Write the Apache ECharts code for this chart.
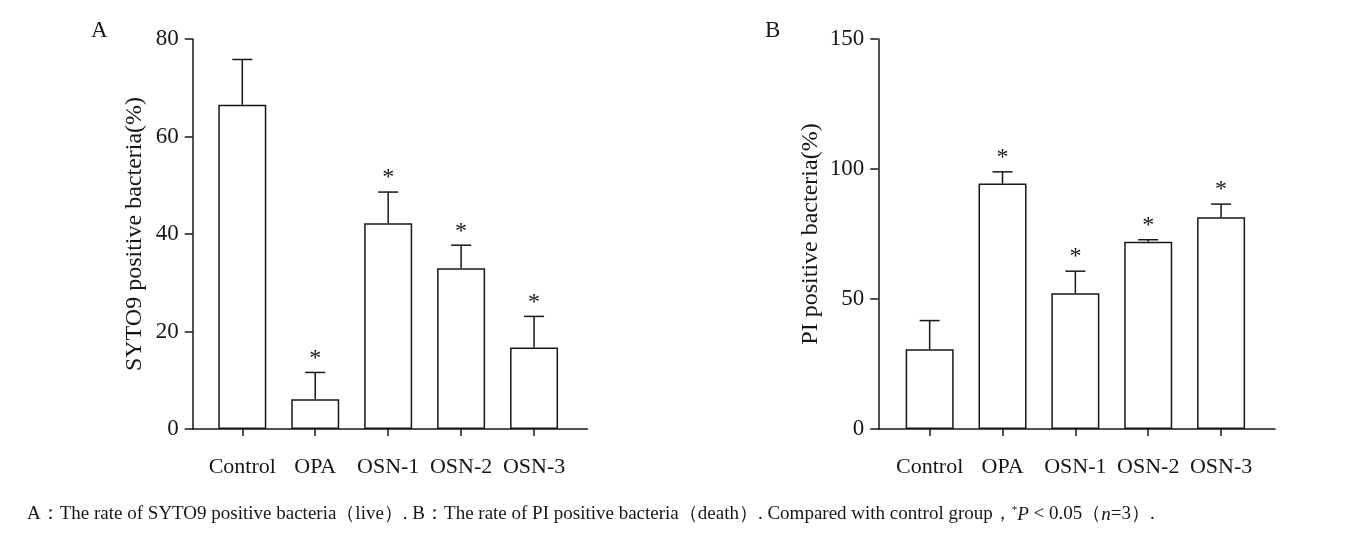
<!DOCTYPE html>
<html>
	<head>
		<meta charset="utf-8">
		<title>SYTO9 / PI positive bacteria</title>
		<script src="https://cdn.jsdelivr.net/npm/echarts@6.0.0/dist/echarts.min.js"></script>
		<style>
			html, body { margin: 0; padding: 0; background: #fff; }
			#main { width: 1351px; height: 537px; }
		</style>
	</head>
	<body>
		<div id="main"></div>
	</body>
<script>
	// groups on the x axis
	var categories = ['Control', 'OPA', 'OSN-1', 'OSN-2', 'OSN-3'];

	// A: SYTO9 positive bacteria (%), mean and mean + SD
	var syto9Mean = [66.5, 6.1, 42.2, 33.0, 16.7];
	var syto9Upper = [75.8, 11.6, 48.6, 37.7, 23.1];
	var syto9Sig = [false, true, true, true, true];

	// B: PI positive bacteria (%), mean and mean + SD
	var piMean = [30.7, 94.4, 52.2, 72.0, 81.4];
	var piUpper = [41.7, 98.9, 60.7, 72.8, 86.5];
	var piSig = [false, true, true, true, true];

	// y axis ticks
	var syto9Ticks = [0, 20, 40, 60, 80];
	var piTicks = [0, 50, 100, 150];

	var ink = '#16161c';
	var serif = '"Liberation Serif", "Times New Roman", serif';

	function pairs(values) {
		return values.map(function (v, i) { return [i, v]; });
	}

	// upper error bar with cap, plus the * mark
	function errorSeries(idx, mean, upper, sig) {
		return {
			type: 'custom',
			xAxisIndex: idx,
			yAxisIndex: idx,
			z: 5,
			data: mean.map(function (v, i) { return [i, v, upper[i], sig[i] ? 1 : 0]; }),
			renderItem: function (params, api) {
				var base = api.coord([api.value(0), api.value(1)]);
				var top = api.coord([api.value(0), api.value(2)]);
				var half = 10;
				var children = [
					{ type: 'line', shape: { x1: top[0], y1: base[1], x2: top[0], y2: top[1] }, style: { stroke: ink, lineWidth: 1.5 } },
					{ type: 'line', shape: { x1: top[0] - half, y1: top[1], x2: top[0] + half, y2: top[1] }, style: { stroke: ink, lineWidth: 1.5 } }
				];
				if (api.value(3)) {
					children.push({
						type: 'text',
						style: {
							text: '*', x: top[0], y: top[1] - 2,
							fill: ink, font: '24px ' + serif,
							align: 'center', verticalAlign: 'bottom'
						}
					});
				}
				return { type: 'group', children: children };
			}
		};
	}

	function xAxisFor(idx, min, max) {
		return {
			gridIndex: idx,
			type: 'value',
			min: min,
			max: max,
			splitLine: { show: false },
			axisLine: { show: true, onZero: false, lineStyle: { color: ink, width: 1.5 } },
			axisTick: { show: true, length: 7, customValues: [0, 1, 2, 3, 4], lineStyle: { color: ink, width: 1.5 } },
			axisLabel: {
				customValues: [0, 1, 2, 3, 4],
				margin: 27,
				color: ink,
				fontFamily: serif,
				fontSize: 22,
				formatter: function (v) { return categories[Math.round(v)]; }
			}
		};
	}

	function yAxisFor(idx, ticks, name, gap) {
		return {
			gridIndex: idx,
			type: 'value',
			min: ticks[0],
			max: ticks[ticks.length - 1],
			interval: ticks[1] - ticks[0],
			name: name,
			nameLocation: 'middle',
			nameGap: gap,
			nameTextStyle: { color: ink, fontFamily: serif, fontSize: 24 },
			splitLine: { show: false },
			axisLine: { show: true, onZero: false, lineStyle: { color: ink, width: 1.5 } },
			axisTick: { show: true, length: 8, lineStyle: { color: ink, width: 1.5 } },
			axisLabel: { margin: 14, color: ink, fontFamily: serif, fontSize: 23 }
		};
	}

	var chart = echarts.init(document.getElementById('main'));
	var option = {
		backgroundColor: '#fff',
		animation: false,
		title: [
			{ text: 'A', left: 86, top: 14, textStyle: { color: ink, fontFamily: serif, fontSize: 23, fontWeight: 'normal' } },
			{ text: 'B', left: 760, top: 14, textStyle: { color: ink, fontFamily: serif, fontSize: 23, fontWeight: 'normal' } },
			{
				text: 'A：The rate of SYTO9 positive bacteria（live）. B：The rate of PI positive bacteria（death）. Compared with control group，{sup|*}{it|P} < 0.05（{it|n}=3）.',
				left: 22,
				top: 500,
				textStyle: {
					color: ink, fontFamily: serif, fontSize: 19, fontWeight: 'normal',
					rich: {
						sup: { fontSize: 11, fontFamily: serif, color: ink, verticalAlign: 'top', lineHeight: 12 },
						it: { fontSize: 19, fontFamily: serif, fontStyle: 'italic', color: ink }
					}
				}
			}
		],
		grid: [
			{ left: 192.7, top: 39, width: 394.6, height: 390 },
			{ left: 878.3, top: 39, width: 396.7, height: 390 }
		],
		xAxis: [xAxisFor(0, -0.68, 4.73), xAxisFor(1, -0.705, 4.74)],
		yAxis: [
			yAxisFor(0, syto9Ticks, 'SYTO9 positive bacteria(%)', 46),
			yAxisFor(1, piTicks, 'PI positive bacteria(%)', 56)
		],
		series: [
			{
				type: 'bar', xAxisIndex: 0, yAxisIndex: 0, barWidth: 48,
				itemStyle: { color: '#fff', borderColor: ink, borderWidth: 1.5 },
				data: pairs(syto9Mean)
			},
			errorSeries(0, syto9Mean, syto9Upper, syto9Sig),
			{
				type: 'bar', xAxisIndex: 1, yAxisIndex: 1, barWidth: 48,
				itemStyle: { color: '#fff', borderColor: ink, borderWidth: 1.5 },
				data: pairs(piMean)
			},
			errorSeries(1, piMean, piUpper, piSig)
		]
	};
	chart.setOption(option);
</script>
</html>
